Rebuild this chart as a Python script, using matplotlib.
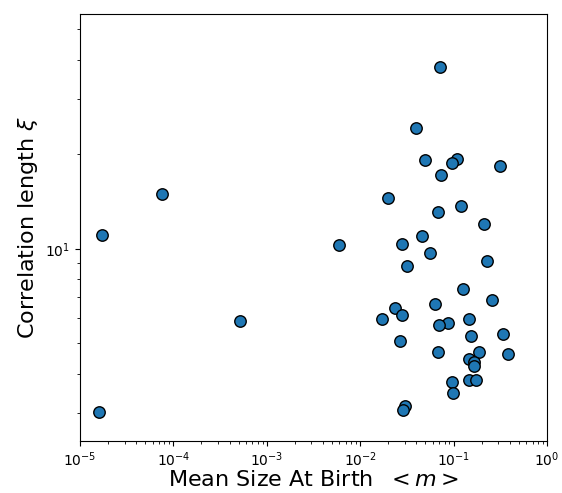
import matplotlib
matplotlib.use("Agg")
import matplotlib.pyplot as plt
from matplotlib.ticker import NullFormatter

# mean size at birth <m> and correlation length xi
mean_size = [
    1.60e-5, 1.73e-5, 7.6e-5, 5.16e-4, 5.89e-3,
    0.0709, 0.0399, 0.0498, 0.1096, 0.0962, 0.316, 0.0740, 0.0199,
    0.0681, 0.121, 0.210,
    0.0278, 0.0459, 0.0555, 0.0319, 0.226, 0.125, 0.256, 0.0627,
    0.0236, 0.0278, 0.0173, 0.145, 0.0863, 0.0698, 0.155, 0.335,
    0.0267, 0.0676, 0.187, 0.385, 0.147, 0.167, 0.165, 0.0953,
    0.145, 0.175, 0.0986, 0.0299, 0.0289,
]
corr_length = [
    3.02, 11.1, 14.9, 5.89, 10.27,
    37.9, 24.2, 19.1, 19.3, 18.7, 18.4, 17.2, 14.5,
    13.1, 13.7, 12.0,
    10.32, 10.97, 9.71, 8.81, 9.11, 7.44, 6.87, 6.65,
    6.49, 6.17, 5.99, 5.99, 5.81, 5.72, 5.29, 5.34,
    5.07, 4.69, 4.69, 4.61, 4.47, 4.35, 4.24, 3.78,
    3.81, 3.81, 3.48, 3.17, 3.07,
]

fig = plt.figure(figsize=(5.62, 4.93), dpi=100)
ax = fig.add_axes([0.1423, 0.1061, 0.8310, 0.8661])

ax.scatter(mean_size, corr_length, s=68, color="#1f77b4",
           edgecolors="black", linewidths=1.0, zorder=3)

ax.set_xscale("log")
ax.set_yscale("log")
ax.set_xlim(1e-5, 1e0)
ax.set_ylim(2.45, 56)
ax.yaxis.set_minor_formatter(NullFormatter())

ax.set_xlabel(r"Mean Size At Birth  $<m>$", fontsize=16, labelpad=1)
ax.set_ylabel(r"Correlation length $\xi$", fontsize=16)

fig.savefig("out.png", dpi=100)
